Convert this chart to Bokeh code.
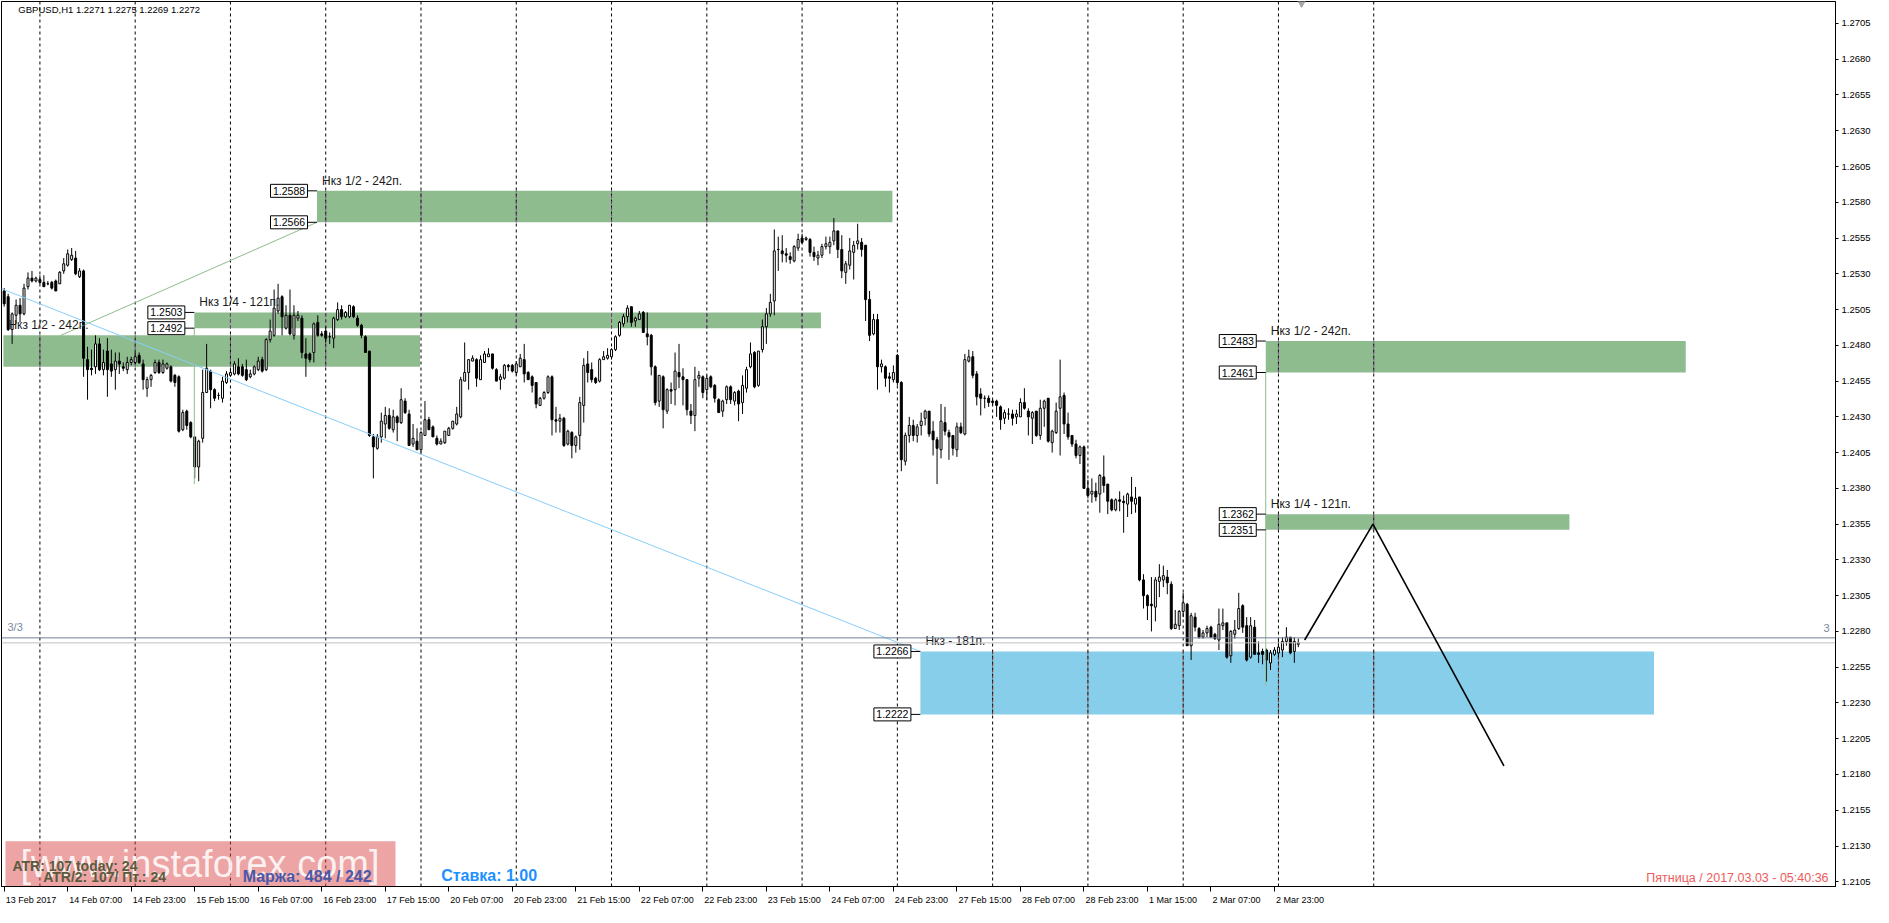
import numpy as np
from bokeh.plotting import figure
from bokeh.models import Range1d, FixedTicker, ColumnDataSource, NumeralTickFormatter
from bokeh.core.properties import value
from bokeh.embed import file_html
from bokeh.resources import INLINE

# ---------------- data ----------------
chart_title = "GBPUSD,H1  1.2271 1.2275 1.2269 1.2272"
clock_text = "Пятница / 2017.03.03 - 05:40:36"
watermark_text = "[www.instaforex.com]"
info_texts = ["ATR: 107 today: 24", "ATR/2: 107/ Пт.: 24", "Маржа: 484 / 242", "Ставка: 1.00"]

opens = [
    1.2518, 1.2514, 1.2491, 1.2501, 1.2508, 1.2502, 1.2521, 1.2527, 1.2525, 1.2526,
    1.2524, 1.2523, 1.2524, 1.2525, 1.2523, 1.2532, 1.2536, 1.2540, 1.2541, 1.2528,
    1.2532, 1.2470, 1.2464, 1.2465, 1.2481, 1.2463, 1.2476, 1.2467, 1.2463, 1.2469,
    1.2465, 1.2463, 1.2468, 1.2468, 1.2473, 1.2467, 1.2450, 1.2456, 1.2461, 1.2468,
    1.2461, 1.2464, 1.2465, 1.2459, 1.2458, 1.2421, 1.2434, 1.2426, 1.2416, 1.2395,
    1.2415, 1.2447, 1.2462, 1.2449, 1.2445, 1.2443, 1.2454, 1.2459, 1.2460, 1.2465,
    1.2465, 1.2463, 1.2458, 1.2460, 1.2463, 1.2470, 1.2463, 1.2484, 1.2487, 1.2504,
    1.2514, 1.2492, 1.2501, 1.2487, 1.2499, 1.2499, 1.2474, 1.2474, 1.2475, 1.2496,
    1.2488, 1.2490, 1.2486, 1.2485, 1.2498, 1.2505, 1.2500, 1.2500, 1.2507, 1.2499,
    1.2494, 1.2486, 1.2476, 1.2416, 1.2408, 1.2416, 1.2425, 1.2431, 1.2421, 1.2430,
    1.2426, 1.2441, 1.2432, 1.2411, 1.2413, 1.2407, 1.2417, 1.2428, 1.2423, 1.2415,
    1.2411, 1.2412, 1.2417, 1.2422, 1.2425, 1.2430, 1.2455, 1.2461, 1.2469, 1.2470,
    1.2456, 1.2468, 1.2472, 1.2474, 1.2463, 1.2456, 1.2457, 1.2466, 1.2466, 1.2461,
    1.2465, 1.2470, 1.2461, 1.2458, 1.2454, 1.2438, 1.2443, 1.2447, 1.2458, 1.2428,
    1.2427, 1.2429, 1.2411, 1.2419, 1.2410, 1.2417, 1.2438, 1.2467, 1.2463, 1.2457,
    1.2455, 1.2470, 1.2471, 1.2472, 1.2477, 1.2487, 1.2495, 1.2500, 1.2507, 1.2497,
    1.2498, 1.2503, 1.2488, 1.2487, 1.2465, 1.2441, 1.2458, 1.2434, 1.2449, 1.2449,
    1.2461, 1.2458, 1.2456, 1.2434, 1.2431, 1.2457, 1.2458, 1.2449, 1.2458, 1.2452,
    1.2442, 1.2434, 1.2442, 1.2451, 1.2441, 1.2448, 1.2440, 1.2450, 1.2465, 1.2475,
    1.2452, 1.2477, 1.2493, 1.2502, 1.2511, 1.2547, 1.2546, 1.2544, 1.2542, 1.2539,
    1.2548, 1.2555, 1.2554, 1.2554, 1.2545, 1.2541, 1.2543, 1.2549, 1.2549, 1.2553,
    1.2560, 1.2547, 1.2531, 1.2536, 1.2545, 1.2551, 1.2552, 1.2550, 1.2512, 1.2488,
    1.2498, 1.2465, 1.2465, 1.2458, 1.2456, 1.2473, 1.2454, 1.2399, 1.2417, 1.2424,
    1.2417, 1.2424, 1.2429, 1.2434, 1.2420, 1.2414, 1.2407, 1.2426, 1.2419, 1.2417,
    1.2407, 1.2423, 1.2418, 1.2469, 1.2472, 1.2460, 1.2446, 1.2443, 1.2443, 1.2441,
    1.2441, 1.2437, 1.2429, 1.2432, 1.2432, 1.2430, 1.2430, 1.2440, 1.2434, 1.2429,
    1.2434, 1.2417, 1.2436, 1.2443, 1.2412, 1.2419, 1.2436, 1.2445, 1.2425, 1.2417,
    1.2411, 1.2403, 1.2409, 1.2380, 1.2376, 1.2378, 1.2376, 1.2388, 1.2383, 1.2372,
    1.2365, 1.2372, 1.2371, 1.2369, 1.2374, 1.2369, 1.2374, 1.2316, 1.2305, 1.2299,
    1.2297, 1.2315, 1.2316, 1.2318, 1.2313, 1.2282, 1.2284, 1.2294, 1.2299, 1.2270,
    1.2290, 1.2282, 1.2276, 1.2279, 1.2283, 1.2278, 1.2274, 1.2284, 1.2286, 1.2263,
    1.2278, 1.2282, 1.2298, 1.2284, 1.2262, 1.2283, 1.2265, 1.2266, 1.2267, 1.2258,
    1.2264, 1.2265, 1.2267, 1.2273, 1.2276, 1.2266, 1.2271,
]
highs = [
    1.2520, 1.2516, 1.2503, 1.2512, 1.2513, 1.2523, 1.2531, 1.2532, 1.2528, 1.2529,
    1.2529, 1.2525, 1.2525, 1.2526, 1.2532, 1.2541, 1.2547, 1.2548, 1.2546, 1.2534,
    1.2533, 1.2479, 1.2477, 1.2487, 1.2485, 1.2477, 1.2485, 1.2477, 1.2475, 1.2475,
    1.2468, 1.2472, 1.2472, 1.2475, 1.2475, 1.2470, 1.2458, 1.2460, 1.2470, 1.2470,
    1.2470, 1.2468, 1.2466, 1.2460, 1.2459, 1.2435, 1.2435, 1.2427, 1.2416, 1.2414,
    1.2463, 1.2481, 1.2463, 1.2450, 1.2447, 1.2458, 1.2462, 1.2463, 1.2469, 1.2471,
    1.2467, 1.2470, 1.2463, 1.2466, 1.2472, 1.2472, 1.2485, 1.2498, 1.2519, 1.2523,
    1.2515, 1.2508, 1.2519, 1.2508, 1.2504, 1.2501, 1.2485, 1.2475, 1.2496, 1.2501,
    1.2490, 1.2493, 1.2489, 1.2500, 1.2510, 1.2508, 1.2504, 1.2508, 1.2508, 1.2501,
    1.2495, 1.2487, 1.2476, 1.2418, 1.2418, 1.2433, 1.2437, 1.2436, 1.2435, 1.2431,
    1.2450, 1.2443, 1.2435, 1.2425, 1.2422, 1.2420, 1.2441, 1.2430, 1.2424, 1.2417,
    1.2415, 1.2420, 1.2423, 1.2427, 1.2437, 1.2458, 1.2482, 1.2470, 1.2473, 1.2471,
    1.2473, 1.2476, 1.2478, 1.2474, 1.2464, 1.2460, 1.2467, 1.2467, 1.2467, 1.2469,
    1.2474, 1.2481, 1.2462, 1.2459, 1.2454, 1.2444, 1.2448, 1.2459, 1.2459, 1.2437,
    1.2432, 1.2430, 1.2421, 1.2420, 1.2417, 1.2444, 1.2471, 1.2476, 1.2468, 1.2458,
    1.2471, 1.2476, 1.2478, 1.2478, 1.2487, 1.2497, 1.2502, 1.2508, 1.2507, 1.2500,
    1.2504, 1.2504, 1.2503, 1.2488, 1.2466, 1.2459, 1.2459, 1.2450, 1.2454, 1.2475,
    1.2481, 1.2464, 1.2456, 1.2439, 1.2465, 1.2462, 1.2459, 1.2459, 1.2459, 1.2453,
    1.2443, 1.2442, 1.2452, 1.2452, 1.2448, 1.2449, 1.2459, 1.2465, 1.2482, 1.2476,
    1.2476, 1.2498, 1.2506, 1.2516, 1.2561, 1.2556, 1.2557, 1.2548, 1.2545, 1.2550,
    1.2558, 1.2558, 1.2556, 1.2555, 1.2549, 1.2546, 1.2551, 1.2556, 1.2556, 1.2569,
    1.2560, 1.2557, 1.2539, 1.2555, 1.2553, 1.2565, 1.2555, 1.2550, 1.2518, 1.2502,
    1.2502, 1.2470, 1.2466, 1.2461, 1.2466, 1.2474, 1.2455, 1.2419, 1.2430, 1.2428,
    1.2425, 1.2433, 1.2435, 1.2434, 1.2427, 1.2416, 1.2439, 1.2437, 1.2421, 1.2417,
    1.2426, 1.2426, 1.2474, 1.2477, 1.2476, 1.2462, 1.2450, 1.2445, 1.2445, 1.2442,
    1.2442, 1.2438, 1.2435, 1.2436, 1.2435, 1.2435, 1.2443, 1.2450, 1.2436, 1.2434,
    1.2434, 1.2442, 1.2442, 1.2443, 1.2421, 1.2440, 1.2470, 1.2447, 1.2433, 1.2417,
    1.2414, 1.2410, 1.2410, 1.2386, 1.2387, 1.2384, 1.2390, 1.2403, 1.2383, 1.2373,
    1.2373, 1.2378, 1.2375, 1.2377, 1.2388, 1.2381, 1.2374, 1.2320, 1.2306, 1.2318,
    1.2318, 1.2327, 1.2326, 1.2323, 1.2315, 1.2295, 1.2295, 1.2307, 1.2300, 1.2293,
    1.2293, 1.2283, 1.2281, 1.2284, 1.2284, 1.2279, 1.2296, 1.2296, 1.2286, 1.2281,
    1.2288, 1.2307, 1.2299, 1.2290, 1.2290, 1.2288, 1.2273, 1.2268, 1.2268, 1.2267,
    1.2269, 1.2275, 1.2276, 1.2283, 1.2276, 1.2276, 1.2275,
]
lows = [
    1.2507, 1.2490, 1.2481, 1.2495, 1.2496, 1.2501, 1.2519, 1.2524, 1.2524, 1.2523,
    1.2521, 1.2522, 1.2519, 1.2518, 1.2523, 1.2530, 1.2535, 1.2539, 1.2529, 1.2527,
    1.2458, 1.2442, 1.2459, 1.2460, 1.2462, 1.2459, 1.2444, 1.2458, 1.2449, 1.2460,
    1.2462, 1.2460, 1.2466, 1.2467, 1.2467, 1.2449, 1.2444, 1.2451, 1.2460, 1.2460,
    1.2460, 1.2463, 1.2454, 1.2451, 1.2419, 1.2420, 1.2421, 1.2415, 1.2387, 1.2385,
    1.2412, 1.2447, 1.2436, 1.2441, 1.2442, 1.2440, 1.2453, 1.2458, 1.2459, 1.2459,
    1.2458, 1.2455, 1.2457, 1.2459, 1.2462, 1.2461, 1.2462, 1.2482, 1.2486, 1.2502,
    1.2487, 1.2491, 1.2487, 1.2484, 1.2497, 1.2471, 1.2458, 1.2468, 1.2468, 1.2486,
    1.2486, 1.2482, 1.2481, 1.2478, 1.2497, 1.2498, 1.2499, 1.2499, 1.2499, 1.2493,
    1.2485, 1.2475, 1.2416, 1.2387, 1.2407, 1.2412, 1.2415, 1.2421, 1.2419, 1.2413,
    1.2425, 1.2432, 1.2410, 1.2409, 1.2407, 1.2405, 1.2417, 1.2421, 1.2416, 1.2410,
    1.2411, 1.2411, 1.2417, 1.2421, 1.2424, 1.2429, 1.2455, 1.2449, 1.2469, 1.2451,
    1.2456, 1.2468, 1.2472, 1.2463, 1.2455, 1.2449, 1.2456, 1.2462, 1.2461, 1.2459,
    1.2465, 1.2454, 1.2456, 1.2447, 1.2436, 1.2438, 1.2442, 1.2446, 1.2417, 1.2419,
    1.2419, 1.2409, 1.2410, 1.2401, 1.2405, 1.2407, 1.2426, 1.2454, 1.2454, 1.2453,
    1.2454, 1.2470, 1.2470, 1.2470, 1.2476, 1.2486, 1.2493, 1.2496, 1.2493, 1.2493,
    1.2498, 1.2489, 1.2480, 1.2459, 1.2438, 1.2437, 1.2422, 1.2432, 1.2439, 1.2438,
    1.2450, 1.2438, 1.2431, 1.2425, 1.2420, 1.2451, 1.2443, 1.2442, 1.2450, 1.2440,
    1.2433, 1.2430, 1.2439, 1.2439, 1.2438, 1.2427, 1.2432, 1.2447, 1.2464, 1.2450,
    1.2451, 1.2475, 1.2481, 1.2500, 1.2501, 1.2532, 1.2538, 1.2538, 1.2537, 1.2538,
    1.2546, 1.2551, 1.2553, 1.2542, 1.2539, 1.2536, 1.2541, 1.2547, 1.2544, 1.2550,
    1.2541, 1.2527, 1.2523, 1.2533, 1.2526, 1.2547, 1.2542, 1.2497, 1.2483, 1.2487,
    1.2449, 1.2461, 1.2451, 1.2447, 1.2454, 1.2452, 1.2392, 1.2396, 1.2412, 1.2413,
    1.2412, 1.2417, 1.2424, 1.2416, 1.2403, 1.2383, 1.2401, 1.2417, 1.2400, 1.2403,
    1.2402, 1.2418, 1.2417, 1.2468, 1.2457, 1.2438, 1.2431, 1.2436, 1.2437, 1.2438,
    1.2430, 1.2421, 1.2425, 1.2428, 1.2424, 1.2425, 1.2430, 1.2435, 1.2417, 1.2411,
    1.2416, 1.2414, 1.2423, 1.2412, 1.2405, 1.2418, 1.2403, 1.2418, 1.2414, 1.2409,
    1.2401, 1.2397, 1.2380, 1.2373, 1.2370, 1.2371, 1.2363, 1.2377, 1.2362, 1.2364,
    1.2364, 1.2364, 1.2349, 1.2360, 1.2362, 1.2363, 1.2315, 1.2296, 1.2288, 1.2280,
    1.2287, 1.2304, 1.2311, 1.2306, 1.2281, 1.2282, 1.2281, 1.2290, 1.2270, 1.2260,
    1.2280, 1.2275, 1.2275, 1.2276, 1.2276, 1.2274, 1.2267, 1.2281, 1.2261, 1.2258,
    1.2275, 1.2281, 1.2279, 1.2259, 1.2261, 1.2264, 1.2258, 1.2257, 1.2245, 1.2253,
    1.2263, 1.2262, 1.2262, 1.2270, 1.2264, 1.2258, 1.2269,
]
closes = [
    1.2509, 1.2491, 1.2502, 1.2508, 1.2502, 1.2520, 1.2527, 1.2525, 1.2527, 1.2524,
    1.2521, 1.2523, 1.2520, 1.2518, 1.2531, 1.2537, 1.2544, 1.2543, 1.2530, 1.2532,
    1.2471, 1.2463, 1.2463, 1.2481, 1.2463, 1.2468, 1.2463, 1.2462, 1.2469, 1.2467,
    1.2464, 1.2468, 1.2470, 1.2472, 1.2468, 1.2456, 1.2456, 1.2459, 1.2468, 1.2461,
    1.2467, 1.2467, 1.2455, 1.2454, 1.2420, 1.2433, 1.2424, 1.2416, 1.2395, 1.2413,
    1.2447, 1.2464, 1.2449, 1.2443, 1.2445, 1.2455, 1.2460, 1.2461, 1.2467, 1.2460,
    1.2459, 1.2456, 1.2460, 1.2465, 1.2469, 1.2462, 1.2484, 1.2490, 1.2506, 1.2513,
    1.2500, 1.2501, 1.2488, 1.2501, 1.2501, 1.2475, 1.2471, 1.2470, 1.2495, 1.2487,
    1.2487, 1.2485, 1.2486, 1.2499, 1.2505, 1.2500, 1.2503, 1.2508, 1.2500, 1.2494,
    1.2487, 1.2475, 1.2417, 1.2409, 1.2416, 1.2427, 1.2431, 1.2422, 1.2430, 1.2426,
    1.2442, 1.2433, 1.2410, 1.2415, 1.2407, 1.2419, 1.2428, 1.2421, 1.2416, 1.2411,
    1.2413, 1.2420, 1.2422, 1.2427, 1.2432, 1.2456, 1.2461, 1.2470, 1.2471, 1.2457,
    1.2470, 1.2474, 1.2474, 1.2464, 1.2455, 1.2458, 1.2466, 1.2465, 1.2462, 1.2467,
    1.2471, 1.2460, 1.2456, 1.2452, 1.2439, 1.2443, 1.2447, 1.2458, 1.2428, 1.2427,
    1.2429, 1.2410, 1.2420, 1.2410, 1.2416, 1.2440, 1.2466, 1.2461, 1.2456, 1.2454,
    1.2470, 1.2472, 1.2473, 1.2477, 1.2486, 1.2496, 1.2500, 1.2506, 1.2496, 1.2499,
    1.2502, 1.2489, 1.2486, 1.2465, 1.2440, 1.2459, 1.2435, 1.2449, 1.2448, 1.2462,
    1.2458, 1.2456, 1.2435, 1.2431, 1.2456, 1.2459, 1.2447, 1.2457, 1.2451, 1.2443,
    1.2433, 1.2441, 1.2451, 1.2442, 1.2447, 1.2439, 1.2452, 1.2463, 1.2474, 1.2451,
    1.2476, 1.2493, 1.2502, 1.2510, 1.2546, 1.2547, 1.2544, 1.2543, 1.2540, 1.2549,
    1.2554, 1.2552, 1.2555, 1.2545, 1.2542, 1.2543, 1.2549, 1.2551, 1.2552, 1.2560,
    1.2547, 1.2532, 1.2537, 1.2546, 1.2550, 1.2553, 1.2547, 1.2512, 1.2487, 1.2498,
    1.2465, 1.2467, 1.2457, 1.2457, 1.2461, 1.2454, 1.2400, 1.2417, 1.2424, 1.2417,
    1.2423, 1.2427, 1.2434, 1.2418, 1.2414, 1.2408, 1.2427, 1.2420, 1.2416, 1.2408,
    1.2423, 1.2419, 1.2470, 1.2472, 1.2459, 1.2444, 1.2443, 1.2443, 1.2440, 1.2440,
    1.2438, 1.2428, 1.2433, 1.2432, 1.2429, 1.2432, 1.2440, 1.2436, 1.2430, 1.2433,
    1.2417, 1.2436, 1.2441, 1.2413, 1.2420, 1.2434, 1.2444, 1.2425, 1.2416, 1.2411,
    1.2403, 1.2409, 1.2380, 1.2375, 1.2378, 1.2374, 1.2389, 1.2382, 1.2371, 1.2365,
    1.2372, 1.2371, 1.2370, 1.2376, 1.2371, 1.2373, 1.2316, 1.2305, 1.2298, 1.2298,
    1.2316, 1.2318, 1.2319, 1.2314, 1.2282, 1.2285, 1.2294, 1.2300, 1.2270, 1.2291,
    1.2283, 1.2276, 1.2279, 1.2282, 1.2276, 1.2275, 1.2285, 1.2286, 1.2262, 1.2280,
    1.2281, 1.2296, 1.2283, 1.2260, 1.2284, 1.2264, 1.2264, 1.2264, 1.2260, 1.2265,
    1.2267, 1.2269, 1.2273, 1.2276, 1.2265, 1.2273, 1.2272,
]

x_tick_bars = [0, 16, 32, 48, 64, 80, 96, 112, 128, 144, 160, 176, 192, 208, 224,
               240, 256, 272, 288, 304, 320]
x_tick_labels = ["13 Feb 2017", "14 Feb 07:00", "14 Feb 23:00", "15 Feb 15:00",
                 "16 Feb 07:00", "16 Feb 23:00", "17 Feb 15:00", "20 Feb 07:00",
                 "20 Feb 23:00", "21 Feb 15:00", "22 Feb 07:00", "22 Feb 23:00",
                 "23 Feb 15:00", "24 Feb 07:00", "24 Feb 23:00", "27 Feb 15:00",
                 "28 Feb 07:00", "28 Feb 23:00", "1 Mar 15:00", "2 Mar 07:00",
                 "2 Mar 23:00"]
y_tick_labels = ["1.2105", "1.2130", "1.2155", "1.2180", "1.2205", "1.2230", "1.2255",
                 "1.2280", "1.2305", "1.2330", "1.2355", "1.2380", "1.2405", "1.2430",
                 "1.2455", "1.2480", "1.2505", "1.2530", "1.2555", "1.2580", "1.2605",
                 "1.2630", "1.2655", "1.2680", "1.2705"]
day_start_bars = [9, 33, 57, 81, 105, 129, 153, 177, 201, 225, 249, 273, 297, 321, 345]

# target zones (start bar, end bar, top price, bottom price, caption, kind)
zone_start = [-0.2, 47.9, 78.8, 230.8, 317.8, 317.8]
zone_end = [104.75, 205.75, 223.75, 415.6, 423.6, 394.3]
zone_top = [1.2487, 1.2503, 1.2588, 1.2266, 1.2483, 1.2362]
zone_bottom = [1.2465, 1.2492, 1.2566, 1.2222, 1.2461, 1.2351]
zone_caption = ["Нкз 1/2 - 242п.", "Нкз 1/4 - 121п.", "Нкз 1/2 - 242п.",
                "Нкз - 181п.", "Нкз 1/2 - 242п.", "Нкз 1/4 - 121п."]
zone_kind = ["green", "green", "green", "blue", "green", "green"]

blue_trend_x = [-0.675, 230.8]
blue_trend_y = [1.25196, 1.2266]
green_trend_x = [14.3, 78.8]
green_trend_y = [1.2487, 1.2566]
green_vert_x = [47.9, 317.8]
green_vert_lo = [1.2383, 1.2242]
green_vert_hi = [1.2492, 1.2461]
forecast_x = [327.6, 344.8, 377.8]
forecast_y = [1.2274, 1.2355, 1.2186]
level3_price = 1.22755
bid_price = 1.2272

# ---------------- layout helpers (reference pixel -> data) ----------------
def bx(px):
    return (px - 2.7) / 4.0

def py(pyy):
    return 1.2705 - (pyy - 25.0) / 14520.0

FONT = "Liberation Sans"
W, H = 1873, 907
FRAME_W = 1835.0
x0, x1 = bx(0), bx(1848)
PPB = FRAME_W / (x1 - x0)
ylo, yhi = py(901), py(2.7)

p = figure(width=W, height=H, x_range=Range1d(x0, x1), y_range=Range1d(ylo, yhi),
           output_backend="svg", toolbar_location=None, x_axis_location="below",
           y_axis_location="right", min_border_left=1, min_border_top=1,
           min_border_right=37, min_border_bottom=19)
p.background_fill_color = "white"
p.border_fill_color = "white"
p.outline_line_color = "black"
p.outline_line_width = 1
p.xgrid.visible = False
p.ygrid.visible = False

# ---- x axis: label centre offset so text starts just right of the bar tick
AW = {'0': .556, '1': .556, '2': .556, '3': .556, '4': .556, '5': .556, '6': .556,
      '7': .556, '8': .556, '9': .556, ' ': .278, ':': .278, 'F': .611, 'e': .556,
      'b': .556, 'M': .833, 'a': .556, 'r': .333}

def tw(s, size):
    return sum(AW.get(ch, .556) for ch in s) * size

XFS = 9
label_centers = [round(b + (1.5 + tw(s, XFS) / 2.0) / PPB, 4) for b, s in zip(x_tick_bars, x_tick_labels)]
xa = p.xaxis[0]
xa.ticker = FixedTicker(ticks=label_centers, minor_ticks=x_tick_bars)
xa.major_label_overrides = {c: s for c, s in zip(label_centers, x_tick_labels)}
xa.major_tick_in = 0
xa.major_tick_out = 0
xa.major_tick_line_color = None
xa.minor_tick_in = 0
xa.minor_tick_out = 5
xa.minor_tick_line_color = "black"
xa.axis_line_color = "black"
xa.major_label_standoff = 3
xa.major_label_text_font = FONT
xa.major_label_text_font_size = "9px"
xa.major_label_text_color = "black"

y_tick_values = [float(s) for s in y_tick_labels]
ya = p.yaxis[0]
ya.ticker = FixedTicker(ticks=y_tick_values)
ya.formatter = NumeralTickFormatter(format="0.0000")
ya.major_label_overrides = {v: s for v, s in zip(y_tick_values, y_tick_labels)}
ya.major_tick_in = 0
ya.major_tick_out = 3
ya.minor_tick_line_color = None
ya.axis_line_color = "black"
ya.major_tick_line_color = "black"
ya.major_label_standoff = 3
ya.major_label_text_font = FONT
ya.major_label_text_font_size = "9.5px"
ya.major_label_text_color = "black"

# ---- zones
GREEN = "#8FBC8F"
BLUE = "#87CEEB"
zsrc = ColumnDataSource(dict(left=zone_start, right=zone_end, top=zone_top, bottom=zone_bottom,
                             color=[GREEN if k == "green" else BLUE for k in zone_kind]))
p.quad(left="left", right="right", top="top", bottom="bottom", fill_color="color",
       line_color=None, source=zsrc)

# ---- vertical dashed day grid
p.segment(x0=day_start_bars, y0=[ylo] * len(day_start_bars), x1=day_start_bars,
          y1=[yhi] * len(day_start_bars), line_color="black", line_width=1, line_dash="3 3")
gx, gb, gt, gc = [], [], [], []
for l, r, t, b, k in zip(zone_start, zone_end, zone_top, zone_bottom, zone_kind):
    for d in day_start_bars:
        if l < d < r:
            gx.append(d); gb.append(b); gt.append(t)
            gc.append("#7d3c8c" if k == "green" else "#8b2a12")
p.segment(x0=gx, y0=gb, x1=gx, y1=gt, line_color=gc, line_width=1, line_dash="3 3")

# ---- candles
o = np.array(opens); h = np.array(highs); lo = np.array(lows); c = np.array(closes)
idx = np.arange(len(o))
csrc = ColumnDataSource(dict(x=idx, hi=np.maximum(h, np.maximum(o, c)), lo=np.minimum(lo, np.minimum(o, c)),
                             top=np.maximum(o, c), bottom=np.minimum(o, c),
                             fill=["white" if cc >= oo else "black" for oo, cc in zip(o, c)]))
p.segment(x0="x", y0="lo", x1="x", y1="hi", line_color="black", line_width=1, source=csrc)
p.vbar(x="x", top="top", bottom="bottom", width=0.5, fill_color="fill", line_color="black",
       line_width=1, source=csrc)

# ---- trend lines
p.line(blue_trend_x, blue_trend_y, line_color="#87CEFA", line_width=1)
p.line(green_trend_x, green_trend_y, line_color=GREEN, line_width=1)
p.segment(x0=green_vert_x, y0=green_vert_lo, x1=green_vert_x, y1=green_vert_hi,
          line_color=GREEN, line_width=1)

# ---- zone captions
p.text(x=zone_start, y=zone_top, text=zone_caption, x_offset=5, y_offset=-10,
       text_font=value(FONT), text_font_size=value("12px"), text_color="#1a1a1a",
       text_align="left", text_baseline="middle")

# ---- horizontal level lines (drawn over the captions, as in the terminal)
p.segment(x0=[x0], y0=[level3_price], x1=[x1], y1=[level3_price], line_color="#6f8196", line_width=1)
p.segment(x0=[x0], y0=[bid_price], x1=[x1], y1=[bid_price], line_color="#c0c0c0", line_width=1)

# ---- price tags left of each zone (only those that lie inside the chart)
tag_x, tag_y, tag_t, con_x0, con_x1 = [], [], [], [], []
for l, t, b in zip(zone_start, zone_top, zone_bottom):
    if l - 47.0 / PPB < x0:
        continue
    for pr in (t, b):
        tag_x.append(l - 28.0 / PPB)
        tag_y.append(pr)
        tag_t.append("%.4f" % pr)
        con_x0.append(l - 9.5 / PPB)
        con_x1.append(l)
p.segment(x0=con_x0, y0=tag_y, x1=con_x1, y1=tag_y, line_color="black", line_width=1)
p.rect(x=tag_x, y=tag_y, width=37, height=13, width_units="screen", height_units="screen",
       fill_color="white", line_color="black", line_width=1)
p.text(x=tag_x, y=tag_y, text=tag_t, text_font=value(FONT), text_font_size=value("10.5px"),
       text_color="black", text_align="center", text_baseline="middle")

# ---- forecast zigzag
p.line(forecast_x, forecast_y, line_color="black", line_width=1.6)

# ---- misc texts inside the frame
p.text(x=[bx(17)], y=[yhi], text=[chart_title], y_offset=8, text_font=value(FONT),
       text_font_size=value("9.5px"), text_color="black", text_align="left", text_baseline="middle")
p.text(x=[bx(6)], y=[py(638)], text=["3/3"], text_font=value(FONT), text_font_size=value("11px"),
       text_color="#7a8aa0", text_align="left", text_baseline="middle")
p.text(x=[bx(1839)], y=[py(639)], text=["3"], text_font=value(FONT), text_font_size=value("11px"),
       text_color="#7a8aa0", text_align="center", text_baseline="middle")
p.text(x=[bx(1841)], y=[py(892)], text=[clock_text], text_font=value(FONT),
       text_font_size=value("12.5px"), text_color="#F05A5A", text_align="right",
       text_baseline="middle")
p.scatter(x=[bx(1310)], y=[py(4)], marker="inverted_triangle", size=8, color="#a8a8a8")

# ---- watermark panel and account info (bottom-left)
p.quad(left=[bx(4)], right=[bx(397)], top=[py(855)], bottom=[py(930)],
       fill_color="#d94a4a", fill_alpha=0.5, line_color=None)
p.text(x=[bx(200)], y=[py(878)], text=[watermark_text], text_font=value(FONT),
       text_font_size=value("38px"), text_color="white", text_alpha=0.85,
       text_align="center", text_baseline="middle")
p.text(x=[bx(11), bx(42)], y=[py(880), py(891)], text=info_texts[:2], text_font=value(FONT),
       text_font_size=value("14px"), text_font_style="bold", text_color="#5a5a3c",
       text_align="left", text_baseline="middle")
p.text(x=[bx(243)], y=[py(891)], text=[info_texts[2]], text_font=value(FONT),
       text_font_size=value("16px"), text_font_style="bold", text_color="#4a58a8",
       text_align="left", text_baseline="middle")
p.text(x=[bx(443)], y=[py(890)], text=[info_texts[3]], text_font=value(FONT),
       text_font_size=value("16px"), text_font_style="bold", text_color="#1E90FF",
       text_align="left", text_baseline="middle")

open("out.html", "w").write(file_html(p, INLINE))
